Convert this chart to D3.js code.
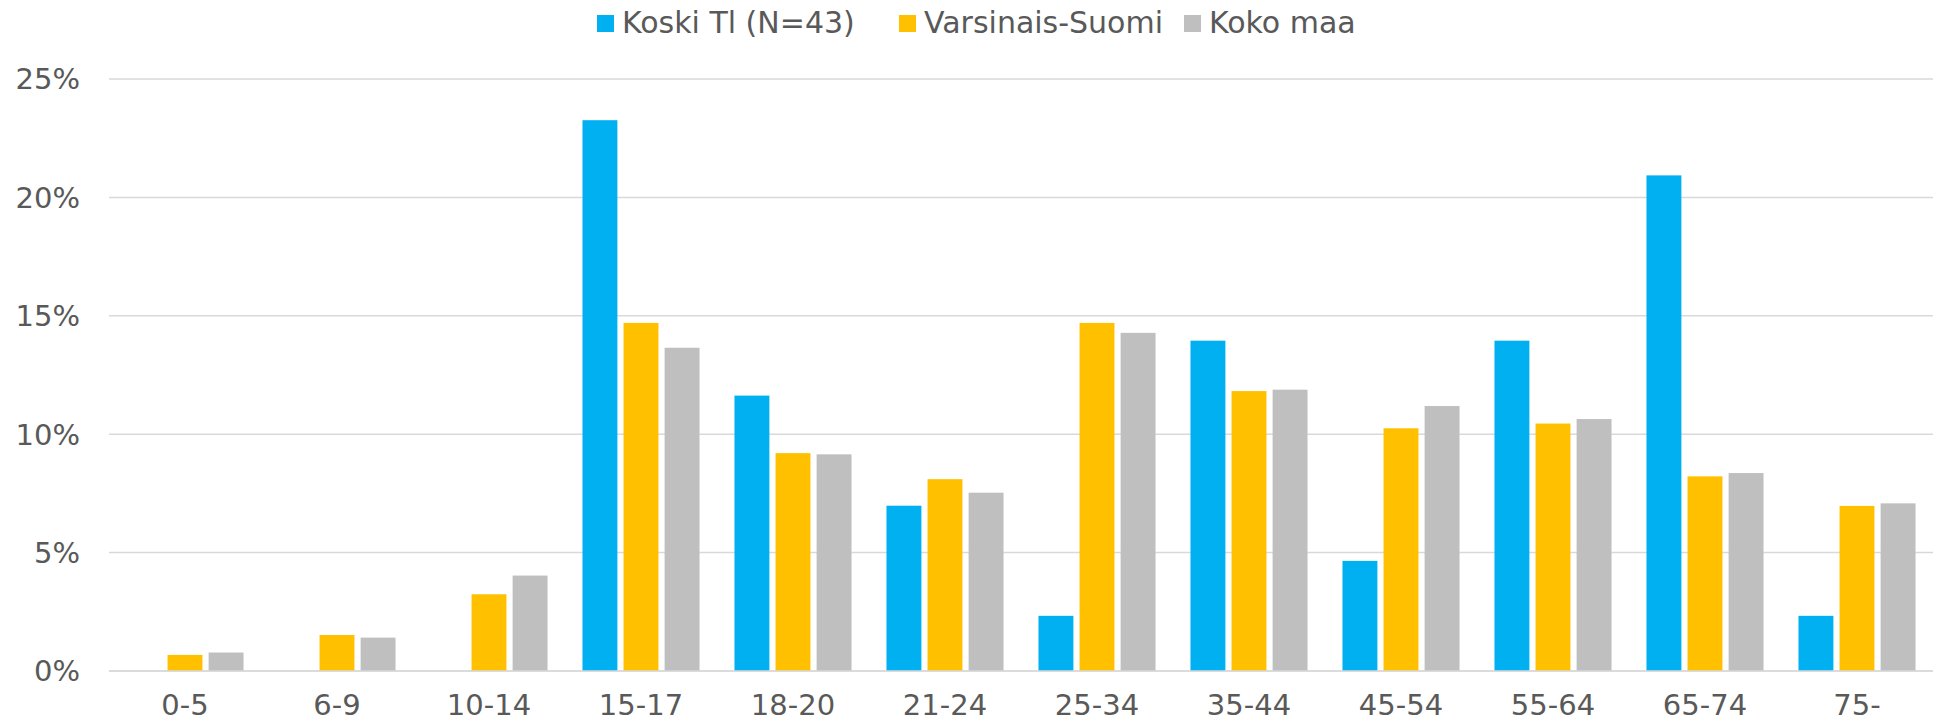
<!DOCTYPE html>
<html>
<head>
<meta charset="utf-8">
<script src="https://cdn.jsdelivr.net/npm/d3@7"></script>
<style>
  body { margin: 0; background: #fff; }
  text { font-family: "DejaVu Sans", Verdana, sans-serif; fill: #595959; }
</style>
</head>
<body>
<script>
const categories = ['0-5', '6-9', '10-14', '15-17', '18-20', '21-24', '25-34', '35-44', '45-54', '55-64', '65-74', '75-'];
const seriesNames = ['Koski Tl (N=43)', 'Varsinais-Suomi', 'Koko maa'];
const koski = [0, 0, 0, 23.26, 11.63, 6.98, 2.33, 13.95, 4.65, 13.95, 20.93, 2.33];
const varsinais = [0.68, 1.52, 3.24, 14.7, 9.2, 8.1, 14.7, 11.82, 10.25, 10.45, 8.22, 6.97];
const kokoMaa = [0.78, 1.41, 4.03, 13.65, 9.15, 7.53, 14.28, 11.88, 11.19, 10.64, 8.36, 7.08];
const yTicks = [0, 5, 10, 15, 20, 25];
const colors = ['#00B0F0', '#FFC000', '#BFBFBF'];

const W = 1941, H = 724;
const plotLeft = 109, plotRight = 1933, plotTop = 79, plotBottom = 671;

const svg = d3.select('body').append('svg')
  .attr('width', W)
  .attr('height', H);

const x0 = d3.scaleBand()
  .domain(categories)
  .range([plotLeft, plotRight])
  .paddingInner(0.23)
  .paddingOuter(0.115);

const x1 = d3.scaleBand()
  .domain(seriesNames)
  .range([0, x0.bandwidth()])
  .paddingInner(0.15);

const y = d3.scaleLinear()
  .domain([0, 25])
  .range([plotBottom, plotTop]);

// gridlines
svg.append('g')
  .selectAll('line')
  .data(yTicks)
  .join('line')
  .attr('x1', plotLeft)
  .attr('x2', plotRight)
  .attr('y1', d => y(d))
  .attr('y2', d => y(d))
  .attr('stroke', '#D9D9D9')
  .attr('stroke-width', 1.5);

// y labels
svg.append('g')
  .selectAll('text')
  .data(yTicks)
  .join('text')
  .attr('x', 80)
  .attr('y', d => y(d))
  .attr('dy', '0.36em')
  .attr('text-anchor', 'end')
  .style('font-size', '29px')
  .text(d => d + '%');

// bars
const rows = categories.map((c, i) => ({
  cat: c,
  vals: [koski[i], varsinais[i], kokoMaa[i]]
}));

const groups = svg.append('g')
  .selectAll('g')
  .data(rows)
  .join('g')
  .attr('transform', d => `translate(${x0(d.cat)},0)`);

groups.selectAll('rect')
  .data(d => d.vals.map((v, j) => ({ name: seriesNames[j], v, j })).filter(d => d.v > 0))
  .join('rect')
  .attr('x', d => x1(d.name))
  .attr('width', x1.bandwidth())
  .attr('y', d => y(d.v))
  .attr('height', d => y(0) - y(d.v))
  .attr('fill', d => colors[d.j]);

// baseline on top of bars
svg.append('line')
  .attr('x1', plotLeft).attr('x2', plotRight)
  .attr('y1', y(0)).attr('y2', y(0))
  .attr('stroke', '#D9D9D9')
  .attr('stroke-width', 1.5);

// x labels
svg.append('g')
  .selectAll('text')
  .data(categories)
  .join('text')
  .attr('x', d => x0(d) + x0.bandwidth() / 2)
  .attr('y', 715)
  .attr('text-anchor', 'middle')
  .style('font-size', '29px')
  .text(d => d);

// legend
const legendX = [597, 899, 1184];
const legend = svg.append('g')
  .selectAll('g')
  .data(seriesNames)
  .join('g')
  .attr('transform', (d, i) => `translate(${legendX[i]},0)`);

legend.append('rect')
  .attr('x', 0)
  .attr('y', 15)
  .attr('width', 17)
  .attr('height', 17)
  .attr('fill', (d, i) => colors[i]);

legend.append('text')
  .attr('x', 25)
  .attr('y', 33)
  .style('font-size', '30px')
  .text(d => d);
</script>
</body>
</html>
